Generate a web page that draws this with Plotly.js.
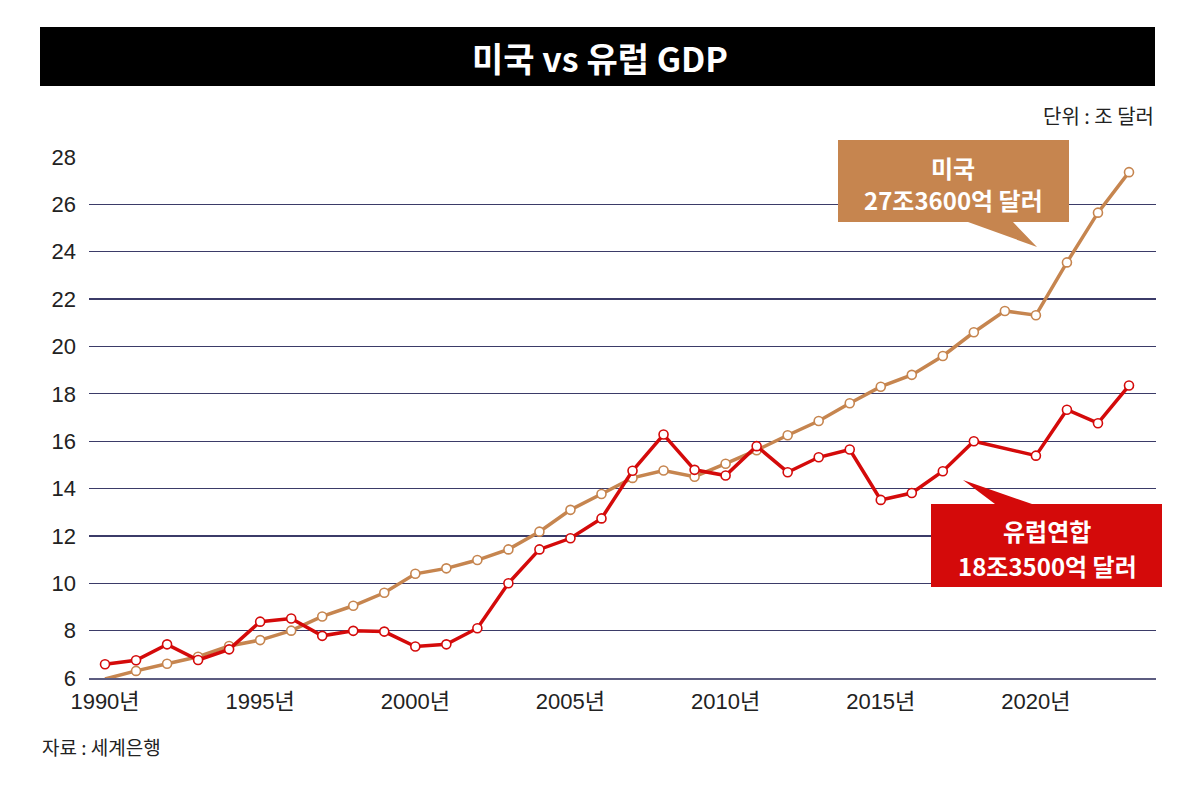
<!DOCTYPE html>
<html>
<head>
<meta charset="utf-8">
<script src="https://cdn.plot.ly/plotly-3.0.1.min.js"></script>
<style>
html,body{margin:0;padding:0;background:#fff;}
#chart{width:1200px;height:801px;}
</style>
</head>
<body>
<div id="chart"></div>
<script>
// ---- data (trillion USD) ----
var years = [1990,1991,1992,1993,1994,1995,1996,1997,1998,1999,2000,2001,2002,2003,2004,2005,2006,2007,2008,2009,2010,2011,2012,2013,2014,2015,2016,2017,2018,2019,2020,2021,2022,2023];
var usGDP = [5.96,6.3,6.6,6.9,7.35,7.6,8.0,8.6,9.05,9.6,10.4,10.63,10.98,11.43,12.18,13.1,13.77,14.45,14.76,14.5,15.05,15.62,16.25,16.85,17.6,18.3,18.8,19.6,20.6,21.5,21.32,23.55,25.65,27.36];
var euGDP = [6.58,6.75,7.42,6.76,7.21,8.38,8.51,7.78,7.99,7.96,7.33,7.42,8.1,10.0,11.43,11.9,12.74,14.75,16.28,14.79,14.55,15.79,14.69,15.32,15.65,13.52,13.81,14.73,16.0,null,15.39,17.33,16.76,18.35];
var xTickVals = [1990,1995,2000,2005,2010,2015,2020];
var xTickText = ["1990년","1995년","2000년","2005년","2010년","2015년","2020년"];
var yTickVals = [6,8,10,12,14,16,18,20,22,24,26,28];
var chartTitle = "미국 vs 유럽 GDP";
var unitText = "단위 : 조 달러";
var sourceText = "자료 : 세계은행";
var usLabel = ["미국", "27조3600억 달러"];
var euLabel = ["유럽연합", "18조3500억 달러"];

// ---- layout helpers (pixel -> paper) ----
var W = 1200, H = 801;
var L = 89, R = 1156, T = 157, B = 678;
function px(x){ return (x - L) / (R - L); }
function py(y){ return (B - y) / (B - T); }

var usColor = "#c6854f";
var euColor = "#d40a0a";
var gridColor = "#3b3b68";
var tickFont = {family: "Liberation Sans, Noto Sans CJK KR, sans-serif", size: 22, color: "#222"};
var korFont = "Noto Sans CJK KR, sans-serif";

var traces = [
  {x: years, y: usGDP, type: "scatter", mode: "lines+markers", name: "미국",
   line: {color: usColor, width: 3.5},
   marker: {size: 9, color: "#ffffff", line: {color: usColor, width: 1.6}},
   cliponaxis: false, hoverinfo: "skip"},
  {x: years, y: euGDP, type: "scatter", mode: "lines+markers", name: "유럽연합",
   connectgaps: true,
   line: {color: euColor, width: 3.5},
   marker: {size: 9, color: "#ffffff", line: {color: euColor, width: 1.6}},
   cliponaxis: false, hoverinfo: "skip"}
];

var shapes = [
  {type: "rect", xref: "paper", yref: "paper", x0: px(40), x1: px(1155), y0: py(86), y1: py(27),
   fillcolor: "#000", line: {width: 0}, layer: "below"},
  {type: "path", xref: "paper", yref: "paper",
   path: "M " + px(838) + " " + py(140) + " L " + px(1069) + " " + py(140) + " L " + px(1069) + " " + py(222) +
         " L " + px(1013) + " " + py(222) + " L " + px(1037) + " " + py(247) + " L " + px(968) + " " + py(222) +
         " L " + px(838) + " " + py(222) + " Z",
   fillcolor: usColor, line: {width: 0}, layer: "above"},
  {type: "path", xref: "paper", yref: "paper",
   path: "M " + px(931) + " " + py(504) + " L " + px(995) + " " + py(504) + " L " + px(963) + " " + py(480) +
         " L " + px(1032) + " " + py(504) + " L " + px(1162) + " " + py(504) + " L " + px(1162) + " " + py(587) +
         " L " + px(931) + " " + py(587) + " Z",
   fillcolor: euColor, line: {width: 0}, layer: "above"}
];

var annotations = [
  {xref: "paper", yref: "paper", x: px(600), y: py(57), text: "<b>" + chartTitle + "</b>", showarrow: false,
   xanchor: "center", yanchor: "middle", font: {family: korFont, size: 34, color: "#fff"}},
  {xref: "paper", yref: "paper", x: px(1156), y: py(115), text: unitText, showarrow: false,
   xanchor: "right", yanchor: "middle", font: {family: korFont, size: 20, color: "#222"}},
  {xref: "paper", yref: "paper", x: px(40), y: py(746), text: sourceText, showarrow: false,
   xanchor: "left", yanchor: "middle", font: {family: korFont, size: 19, color: "#222"}},
  {xref: "paper", yref: "paper", x: px(953), y: py(167), text: "<b>" + usLabel[0] + "</b>", showarrow: false,
   xanchor: "center", yanchor: "middle", font: {family: korFont, size: 24, color: "#fff"}},
  {xref: "paper", yref: "paper", x: px(953), y: py(200), text: "<b>" + usLabel[1] + "</b>", showarrow: false,
   xanchor: "center", yanchor: "middle", font: {family: korFont, size: 24, color: "#fff"}},
  {xref: "paper", yref: "paper", x: px(1047), y: py(530), text: "<b>" + euLabel[0] + "</b>", showarrow: false,
   xanchor: "center", yanchor: "middle", font: {family: korFont, size: 24, color: "#fff"}},
  {xref: "paper", yref: "paper", x: px(1047), y: py(565), text: "<b>" + euLabel[1] + "</b>", showarrow: false,
   xanchor: "center", yanchor: "middle", font: {family: korFont, size: 24, color: "#fff"}}
];

var layout = {
  width: W, height: H,
  margin: {l: L, r: W - R, t: T, b: H - B, pad: 0},
  paper_bgcolor: "#fff", plot_bgcolor: "#fff",
  showlegend: false,
  hovermode: false,
  xaxis: {range: [1989.484, 2023.87], tickvals: xTickVals, ticktext: xTickText,
          showgrid: false, zeroline: false, showline: true, linecolor: "#5c5c80", linewidth: 2,
          ticks: "", tickfont: tickFont, ticklabelstandoff: 3, fixedrange: true},
  yaxis: {range: [6, 28], tickvals: yTickVals, showgrid: true, gridcolor: gridColor, gridwidth: 1.2,
          zeroline: false, showline: false, ticks: "", tickfont: tickFont, ticklabelstandoff: 12, fixedrange: true},
  shapes: shapes,
  annotations: annotations
};

Plotly.newPlot("chart", traces, layout, {displayModeBar: false, staticPlot: true});
</script>
</body>
</html>
